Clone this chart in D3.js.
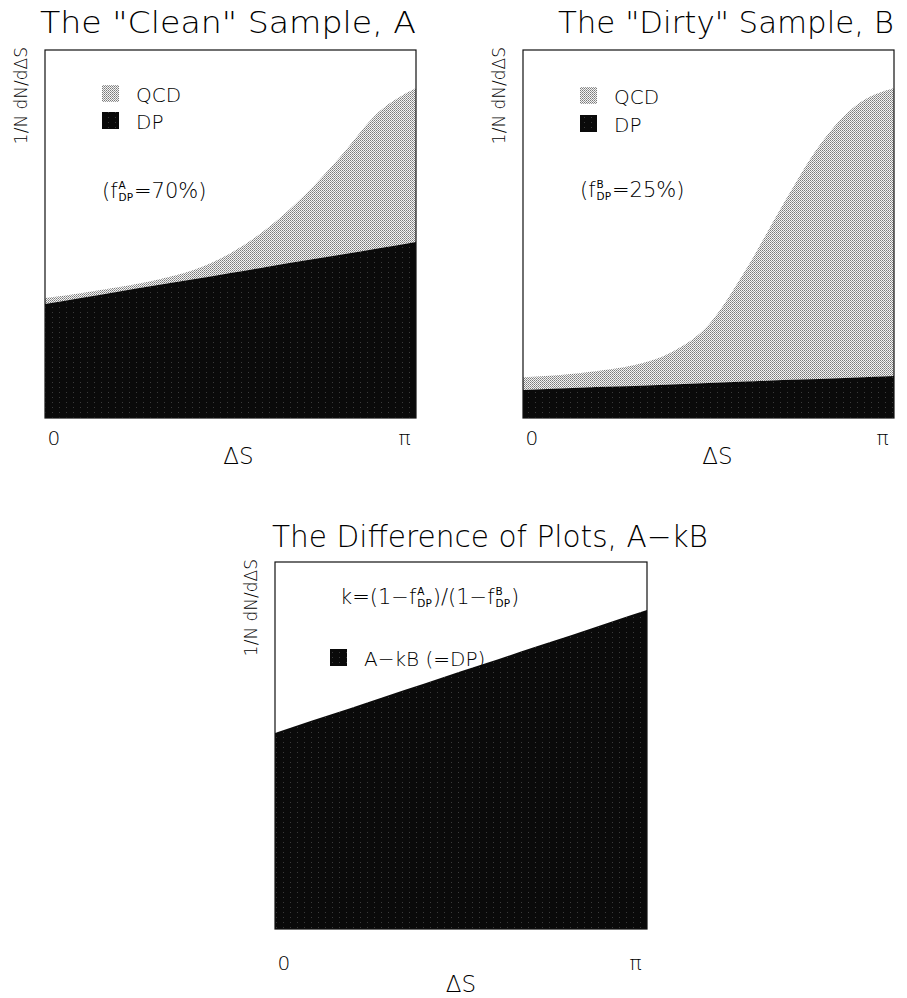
<!DOCTYPE html>
<html>
<head>
<meta charset="utf-8">
<script src="https://cdn.jsdelivr.net/npm/d3@7"></script>
<style>
  body { margin: 0; background: #fff; }
  svg text { font-family: "DejaVu Sans", sans-serif; font-weight: 200; fill: #000; }
</style>
</head>
<body>
<div class="chart"></div>
<script>
// x positions, in units of pi
var dsGrid = [0, 0.1, 0.2, 0.3, 0.4, 0.5, 0.6, 0.7, 0.8, 0.9, 1.0];

// sample A ("clean"): total (QCD + DP) and DP, fraction of full scale
var totalA = [0.326, 0.340, 0.356, 0.375, 0.402, 0.448, 0.516, 0.606, 0.715, 0.832, 0.897];
var dpA    = [0.310, 0.327, 0.344, 0.361, 0.377, 0.394, 0.411, 0.428, 0.444, 0.461, 0.478];

// sample B ("dirty")
var totalB = [0.111, 0.117, 0.128, 0.144, 0.179, 0.253, 0.402, 0.579, 0.742, 0.851, 0.897];
var dpB    = [0.076, 0.080, 0.084, 0.087, 0.091, 0.095, 0.099, 0.103, 0.106, 0.110, 0.114];

// difference A - kB
var diffC  = [0.534, 0.568, 0.601, 0.635, 0.668, 0.702, 0.735, 0.769, 0.802, 0.836, 0.869];

var xTickLabels = ["0", "\u03c0"];
var yLabel = "1/N dN/d\u0394S";
var xLabel = "\u0394S";

var svg = d3.select(".chart").append("svg")
  .attr("width", 907).attr("height", 998);

var defs = svg.append("defs");
// QCD: fine dot screen
var pq = defs.append("pattern").attr("id", "qcd")
  .attr("width", 2).attr("height", 2).attr("patternUnits", "userSpaceOnUse");
pq.append("rect").attr("width", 2).attr("height", 2).attr("fill", "#f4f4f4");
pq.append("rect").attr("width", 1).attr("height", 1).attr("fill", "#7a7a7a");
pq.append("rect").attr("x", 1).attr("y", 1).attr("width", 1).attr("height", 1).attr("fill", "#9a9a9a");
// DP: near black
var pd = defs.append("pattern").attr("id", "dp")
  .attr("width", 7).attr("height", 5).attr("patternUnits", "userSpaceOnUse");
pd.append("rect").attr("width", 7).attr("height", 5).attr("fill", "#0a0a0a");
pd.append("rect").attr("x", 3).attr("y", 2).attr("width", 1).attr("height", 1).attr("fill", "#3a3a3a");

// place a run of text pieces one after the other, with stacked sup/sub pieces
function richText(g, x, y, parts, size) {
  var cx = x;
  parts.forEach(function(p) {
    if (p.t) {
      var t = g.append("text").attr("x", cx).attr("y", y)
        .style("font-size", size + "px").text(p.t);
      cx += t.node().getComputedTextLength();
    } else {
      var s = size * 0.5;
      var a = g.append("text").attr("x", cx + 1).attr("y", y - size * 0.42)
        .style("font-size", s + "px").style("font-weight", 400).text(p.sup);
      var b = g.append("text").attr("x", cx + 1).attr("y", y + size * 0.12)
        .style("font-size", s + "px").style("font-weight", 400).text(p.sub);
      cx += Math.max(a.node().getComputedTextLength(), b.node().getComputedTextLength()) + 2;
    }
  });
}

function panel(cfg) {
  var g = svg.append("g");
  var x = d3.scaleLinear().domain([0, 1]).range([cfg.left, cfg.right]);
  var y = d3.scaleLinear().domain([0, 1]).range([cfg.bottom, cfg.top]);

  var area = d3.area()
    .x(function(d) { return x(d.x); })
    .y0(function(d) { return y(d.y0); })
    .y1(function(d) { return y(d.y1); })
    .curve(d3.curveMonotoneX);

  cfg.layers.forEach(function(L) {
    var pts = dsGrid.map(function(v, i) {
      return { x: v, y0: L.lo ? L.lo[i] : 0, y1: L.hi[i] };
    });
    g.append("path").datum(pts).attr("d", area).attr("fill", "url(#" + L.fill + ")");
  });

  // frame
  g.append("rect")
    .attr("x", cfg.left).attr("y", cfg.top)
    .attr("width", cfg.right - cfg.left).attr("height", cfg.bottom - cfg.top)
    .attr("fill", "none").attr("stroke", "#111").attr("stroke-width", 1.2);

  // title
  g.append("text").attr("x", cfg.titleX).attr("y", cfg.titleY)
    .attr("textLength", cfg.titleW).attr("lengthAdjust", "spacingAndGlyphs")
    .style("font-size", "30px").text(cfg.title);

  // y label
  g.append("text")
    .attr("transform", "translate(" + cfg.ylabX + "," + (cfg.top - 3) + ") rotate(-90)")
    .attr("text-anchor", "end")
    .style("font-size", "17px").style("font-weight", 300).text(yLabel);

  // x axis tick labels
  var axis = d3.axisBottom(x).tickValues([0, 1]).tickSize(0)
    .tickFormat(function(d, i) { return xTickLabels[i]; });
  var ax = g.append("g").attr("transform", "translate(0," + (cfg.bottom + cfg.tickDy) + ")").call(axis);
  ax.select(".domain").remove();
  ax.selectAll("text")
    .style("font-size", "20px").attr("fill", "#000")
    .attr("text-anchor", function(d, i) { return i === 0 ? "start" : "end"; })
    .attr("dx", function(d, i) { return i === 0 ? "2" : "-6"; });
  g.append("text").attr("x", (cfg.left + cfg.right) / 2 + cfg.xlabDx).attr("y", cfg.bottom + cfg.xlabDy)
    .attr("text-anchor", "middle").style("font-size", "23px").text(xLabel);

  // legend
  cfg.legend.forEach(function(L) {
    g.append("rect").attr("x", L.x).attr("y", L.y - 17).attr("width", 17).attr("height", 17)
      .attr("fill", "url(#" + L.fill + ")");
    g.append("text").attr("x", L.x + 34).attr("y", L.y).style("font-size", "20px").style("font-weight", 300).text(L.text);
  });
  if (cfg.note) richText(g, cfg.note.x, cfg.note.y, cfg.note.parts, 21);
  return g;
}

panel({
  left: 45, right: 416, top: 50, bottom: 418,
  title: "The \"Clean\" Sample, A", titleX: 40, titleY: 33, titleW: 376,
  ylabX: 27, tickDy: 10, xlabDx: 8, xlabDy: 46,
  layers: [{ hi: totalA, lo: dpA, fill: "qcd" }, { hi: dpA, fill: "dp" }],
  legend: [{ x: 102, y: 102, fill: "qcd", text: "QCD" }, { x: 102, y: 129, fill: "dp", text: "DP" }],
  note: { x: 102, y: 198, parts: [{ t: "(f" }, { sup: "A", sub: "DP" }, { t: "=70%)" }] }
});

panel({
  left: 523, right: 894, top: 50, bottom: 418,
  title: "The \"Dirty\" Sample, B", titleX: 558, titleY: 33, titleW: 336,
  ylabX: 505, tickDy: 10, xlabDx: 9, xlabDy: 46,
  layers: [{ hi: totalB, lo: dpB, fill: "qcd" }, { hi: dpB, fill: "dp" }],
  legend: [{ x: 580, y: 104, fill: "qcd", text: "QCD" }, { x: 580, y: 132, fill: "dp", text: "DP" }],
  note: { x: 580, y: 197, parts: [{ t: "(f" }, { sup: "B", sub: "DP" }, { t: "=25%)" }] }
});

panel({
  left: 275, right: 647, top: 562, bottom: 929,
  title: "The Difference of Plots, A\u2212kB", titleX: 272, titleY: 547, titleW: 436,
  ylabX: 257, tickDy: 24, xlabDx: 0, xlabDy: 63,
  layers: [{ hi: diffC, fill: "dp" }],
  legend: [{ x: 330, y: 666, fill: "dp", text: "A\u2212kB (=DP)" }],
  note: { x: 340, y: 604, parts: [{ t: "k=(1\u2212f" }, { sup: "A", sub: "DP" }, { t: ")/(1\u2212f" }, { sup: "B", sub: "DP" }, { t: ")" }] }
});
</script>
</body>
</html>
